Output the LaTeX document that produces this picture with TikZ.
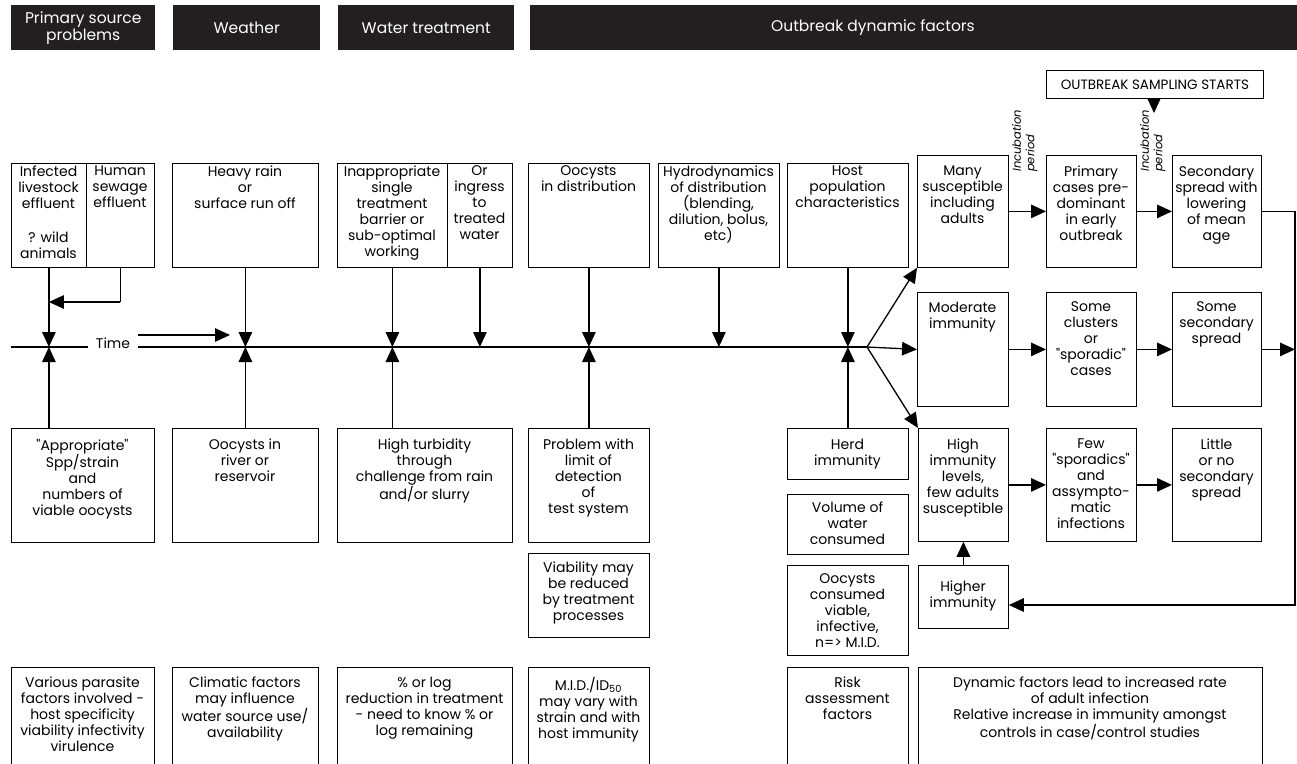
\documentclass[tikz,border=0pt]{standalone}
\usepackage{fontspec}
\setmainfont{Poppins}[Ligatures=TeXOff]
\usetikzlibrary{arrows.meta}
\definecolor{hdrcol}{HTML}{231F20}
\newcommand\bx[7]{%
  \node[box, minimum width={#4-#2}, minimum height={#5-#3}] (#1) at (#2,#3) {};
  \node[txt] (#1-t) at ({(#2+#4)/2},{#6-11.2}) {#7};}
\begin{document}
\begin{tikzpicture}[x=1pt,y=-1pt,
  box/.style={draw, line width=0.8pt, inner sep=0pt, anchor=north west},
  txt/.style={anchor=north, align=center, inner sep=0pt, font=\fontsize{14}{16}\selectfont, execute at begin node=\strut},
  hdr/.style={fill=hdrcol, draw=none, anchor=north west, inner sep=0pt, text=white, align=center, font=\fontsize{15.5}{17}\selectfont},
  inc/.style={rotate=90, anchor=north west, align=left, inner sep=0pt, font=\itshape\fontsize{11.5}{13.5}\selectfont},
  conn/.style={line width=1.3pt},
  arr/.style={conn, -{Triangle[length=15pt,width=13.5pt]}},
]
\useasboundingbox (0,0) rectangle (1297,763);
\clip (0,0) rectangle (1297,763);

% headers
\node[hdr, minimum width=144, minimum height=45] (h1) at (11,5) {Primary source\\problems};
\node[hdr, minimum width=147, minimum height=45] (h2) at (173,5) {Weather};
\node[hdr, minimum width=176, minimum height=45] (h3) at (338,5) {Water treatment};
\node[hdr, minimum width=767, minimum height=45] (h4) at (530,5) {};
\node[text=white, font=\fontsize{15.5}{17}\selectfont, inner sep=0pt] (h4t) at (873,27.5) {Outbreak dynamic factors};

% outbreak sampling
\node[box, minimum width=217, minimum height=28, font=\fontsize{13.5}{16}\selectfont] (ob) at (1046,70) {OUTBREAK SAMPLING STARTS};
\coordinate (obtip) at (1154,113);
\draw[arr] (ob.south -| obtip) -- (obtip);

% top row
\bx{b1a}{11}{163}{86}{267}{177}{Infected\\livestock\\effluent\\[18pt]? wild\\animals}
\bx{b1b}{86}{163}{154}{267}{177}{Human\\sewage\\effluent}
\bx{b2}{172}{163}{318}{267}{177}{Heavy rain\\or\\surface run off}
\bx{b3a}{337}{163}{447}{267}{177}{Inappropriate\\single\\treatment\\barrier or\\sub-optimal\\working}
\bx{b3b}{447}{163}{512}{267}{177}{Or\\ingress\\to\\treated\\water}
\bx{b4}{528}{163}{649}{267}{177}{Oocysts\\in distribution}
\bx{b5}{658}{163}{779}{267}{177}{Hydrodynamics\\of distribution\\(blending,\\dilution, bolus,\\etc)}
\bx{b6}{787}{163}{908}{267}{177}{Host\\population\\characteristics}

% right grid
\bx{m1}{917}{155}{1008}{267}{177}{Many\\susceptible\\including\\adults}
\bx{m2}{1046}{155}{1136}{267}{177}{Primary\\cases pre-\\dominant\\in early\\outbreak}
\bx{m3}{1172}{155}{1261}{267}{177}{Secondary\\spread with\\lowering\\of mean\\age}
\bx{d1}{917}{292}{1008}{406}{313}{Moderate\\immunity}
\bx{d2}{1046}{292}{1136}{406}{313}{Some\\clusters\\or\\"sporadic"\\cases}
\bx{d3}{1172}{292}{1261}{406}{313}{Some\\secondary\\spread}
\bx{l1}{918}{428}{1008}{541}{450}{High\\immunity\\levels,\\few adults\\susceptible}
\bx{l2}{1046}{428}{1136}{541}{450}{Few\\"sporadics"\\and\\assympto-\\matic\\infections}
\bx{l3}{1172}{428}{1261}{541}{450}{Little\\or no\\secondary\\spread}
\bx{hi}{918}{565}{1008}{628}{592}{Higher\\immunity}

% incubation labels
\node[inc] (inc1) at (1012,172) {Incubation\\period};
\node[inc] (inc2) at (1140,172) {Incubation\\period};

% left column of risk factors
\bx{herd}{787}{428}{908}{479}{450}{Herd\\immunity}
\bx{vol}{787}{494}{908}{554}{513}{Volume of\\water\\consumed}
\bx{ooc}{787}{565}{908}{655}{585}{Oocysts\\consumed\\viable,\\infective,\\n=> M.I.D.}

% second row
\bx{r1}{11}{428}{154}{542}{450}{"Appropriate"\\Spp/strain\\and\\numbers of\\viable oocysts}
\bx{r2}{172}{428}{318}{542}{450}{Oocysts in\\river or\\reservoir}
\bx{r3}{337}{428}{512}{542}{450}{High turbidity\\through\\challenge from rain\\and/or slurry}
\bx{r4}{528}{428}{649}{542}{450}{Problem with\\limit of\\detection\\of\\test system}
\bx{via}{528}{553}{649}{637}{573}{Viability may\\be reduced\\by treatment\\processes}

% bottom row
\bx{s1}{11}{667}{154}{800}{688}{Various parasite\\factors involved -\\host specificity\\viability infectivity\\virulence}
\bx{s2}{172}{667}{318}{800}{688}{Climatic factors\\may influence\\water source use/\\availability}
\bx{s3}{337}{667}{512}{800}{688}{\% or log\\reduction in treatment\\- need to know \% or\\log remaining}
\bx{s4}{528}{667}{649}{800}{688}{M.I.D./ID\textsubscript{50}\\may vary with\\strain and with\\host immunity}
\bx{risk}{787}{667}{908}{800}{688}{Risk\\assessment\\factors}
\bx{dyn}{918}{667}{1262}{800}{688}{Dynamic factors lead to increased rate\\of adult infection\\Relative increase in immunity amongst\\controls in case/control studies}

% time line
\coordinate (T) at (0,347);
\coordinate (J) at (0,302);
\coordinate (R) at (0,605);
\coordinate (E) at (1295,0);
\coordinate (tl0) at (11,347);
\coordinate (tl1) at (88,347);
\coordinate (tl2) at (138,347);
\coordinate (split) at (867,347);
\coordinate (ta0) at (138,335);
\coordinate (ta1) at (230,335);
\node[anchor=base, inner sep=0pt, font=\fontsize{14}{16}\selectfont] (time) at (113,348) {Time};
\draw[conn] (tl0) -- (tl1);
\draw[conn] (tl2) -- (split);
\draw[arr] (ta0) -- (ta1);
\draw[arr] (split) -- (d1.west);
\draw[arr] (split) -- (m1.south west);
\draw[arr] (split) -- (l1.north west);

% down arrows
\draw[arr] (b1a.south) -- (b1a.south |- T);
\draw[conn] (b1b.south) -- (b1b.south |- J);
\draw[arr] (b1b.south |- J) -- (b1a.south |- J);
\draw[arr] (b2.south) -- (b2.south |- T);
\draw[arr] (b3a.south) -- (b3a.south |- T);
\draw[arr] (b3b.south) -- (b3b.south |- T);
\draw[arr] (b4.south) -- (b4.south |- T);
\draw[arr] (b5.south) -- (b5.south |- T);
\draw[arr] (b6.south) -- (b6.south |- T);

% up arrows
\draw[arr] (b1a.south |- r1.north) -- (b1a.south |- T);
\draw[arr] (r2.north) -- (r2.north |- T);
\draw[arr] (b3a.south |- r3.north) -- (b3a.south |- T);
\draw[arr] (r4.north) -- (r4.north |- T);
\draw[arr] (herd.north) -- (herd.north |- T);

% right grid arrows
\draw[arr] (m1.east) -- (m2.west);
\draw[arr] (m2.east) -- (m3.west);
\draw[arr] (d1.east) -- (d2.west);
\draw[arr] (d2.east) -- (d3.west);
\draw[arr] (d3.east) -- (d3.east -| E);
\draw[arr] (l1.east) -- (l2.west);
\draw[arr] (l2.east) -- (l3.west);
\draw[arr] (hi.north) -- (hi.north |- l1.south);
\draw[arr] (m3.east) -- (m3.east -| E) -- (E |- R) -- (hi.east |- R);
\end{tikzpicture}
\end{document}
